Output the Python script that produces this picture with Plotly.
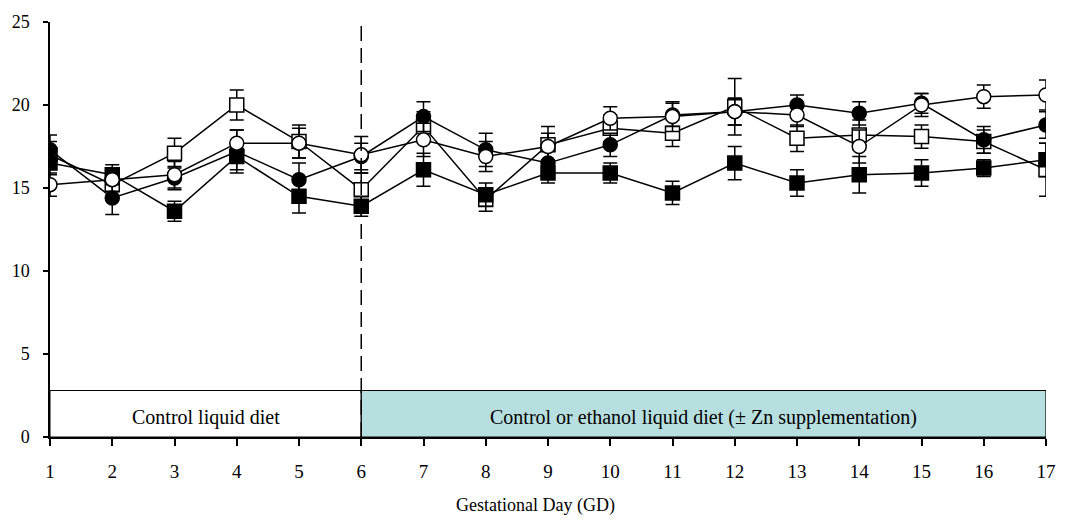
import plotly.graph_objects as go

# Gestational day
days = list(range(1, 18))

# Mean values per group (four diet groups)
filled_circle = [17.3, 14.4, 15.6, 17.2, 15.5, 16.9, 19.3, 17.3, 16.5, 17.6, 19.4, 19.6, 20.0, 19.5, 20.1, 17.9, 18.8]
filled_circle_err = [0.9, 1.0, 0.7, 1.3, 1.0, 0.8, 0.9, 1.0, 0.8, 0.7, 0.7, 0.8, 0.6, 0.7, 0.6, 0.8, 0.8]

filled_square = [16.5, 15.8, 13.6, 16.9, 14.5, 13.9, 16.1, 14.6, 15.9, 15.9, 14.7, 16.5, 15.3, 15.8, 15.9, 16.2, 16.7]
filled_square_err = [0.7, 0.6, 0.6, 0.8, 1.0, 0.6, 1.0, 0.7, 0.6, 0.6, 0.7, 1.0, 0.8, 1.1, 0.8, 0.5, 1.0]

open_square = [17.0, 15.2, 17.1, 20.0, 17.8, 14.9, 18.7, 14.3, 17.6, 18.6, 18.3, 19.9, 18.0, 18.2, 18.1, 17.8, 16.1]
open_square_err = [0.8, 0.9, 0.9, 0.9, 1.0, 1.0, 0.9, 0.7, 1.1, 0.8, 0.8, 1.7, 0.8, 0.9, 0.7, 0.7, 1.6]

open_circle = [15.2, 15.5, 15.8, 17.7, 17.7, 17.0, 17.9, 16.9, 17.5, 19.2, 19.3, 19.6, 19.4, 17.5, 20.0, 20.5, 20.6]
open_circle_err = [0.7, 0.7, 0.8, 0.8, 0.9, 1.1, 1.0, 0.9, 0.8, 0.7, 0.9, 0.8, 0.7, 1.0, 0.7, 0.7, 0.9]

x_ticks = list(range(1, 18))
y_ticks = [0, 5, 10, 15, 20, 25]

FONT = "Liberation Serif"

series = [
    (open_square, open_square_err, "square", "white"),
    (filled_square, filled_square_err, "square", "black"),
    (filled_circle, filled_circle_err, "circle", "black"),
    (open_circle, open_circle_err, "circle", "white"),
]

fig = go.Figure()
for vals, errs, sym, fill in series:
    fig.add_trace(go.Scatter(
        x=days, y=vals, mode="lines+markers",
        line=dict(color="black", width=1.5),
        marker=dict(symbol=sym, size=14, color=fill, line=dict(color="black", width=1.5)),
        error_y=dict(type="data", array=errs, visible=True, color="black", thickness=1.5, width=7),
        showlegend=False,
    ))

# Diet period boxes along the bottom
fig.add_shape(type="rect", x0=1, x1=6, y0=0, y1=2.8, xref="x", yref="y",
              line=dict(color="black", width=1), fillcolor="white", layer="below")
fig.add_shape(type="rect", x0=6, x1=17, y0=0, y1=2.8, xref="x", yref="y",
              line=dict(color="black", width=1.2), fillcolor="#b8dfe0", layer="below")

# Diet switch marker
fig.add_shape(type="line", x0=6, x1=6, y0=0, y1=25, xref="x", yref="y",
              line=dict(color="black", width=1.5, dash="15px,7px"))

fig.add_annotation(x=3.5, y=1.2, xref="x", yref="y", text="Control liquid diet",
                   showarrow=False, font=dict(family=FONT, size=20, color="black"))
fig.add_annotation(x=11.5, y=1.2, xref="x", yref="y",
                   text="Control or ethanol liquid diet (± Zn supplementation)",
                   showarrow=False, font=dict(family=FONT, size=20, color="black"))

# Axis title
fig.add_annotation(x=0.487, y=-0.165, xref="paper", yref="paper", yanchor="middle",
                   text="Gestational Day (GD)", showarrow=False,
                   font=dict(family=FONT, size=18, color="black"))

fig.update_layout(
    width=1069, height=523,
    margin=dict(l=47, r=23, t=19, b=86),
    plot_bgcolor="white", paper_bgcolor="white",
    font=dict(family=FONT, color="black"),
    xaxis=dict(
        range=[1, 17], tickvals=x_ticks, ticktext=[str(t) for t in x_ticks],
        showgrid=False, zeroline=False, showline=True, linecolor="black", linewidth=1.5,
        ticks="outside", ticklen=7, tickwidth=1.5, tickcolor="black",
        tickfont=dict(family=FONT, size=19), ticklabelstandoff=9,
    ),
    yaxis=dict(
        range=[0, 25], tickvals=y_ticks,
        showgrid=False, zeroline=False, showline=True, linecolor="black", linewidth=1.5,
        ticks="outside", ticklen=5, tickwidth=1.5, tickcolor="black",
        tickfont=dict(family=FONT, size=18), ticklabelstandoff=10,
    ),
)

fig.write_html("out.html")
